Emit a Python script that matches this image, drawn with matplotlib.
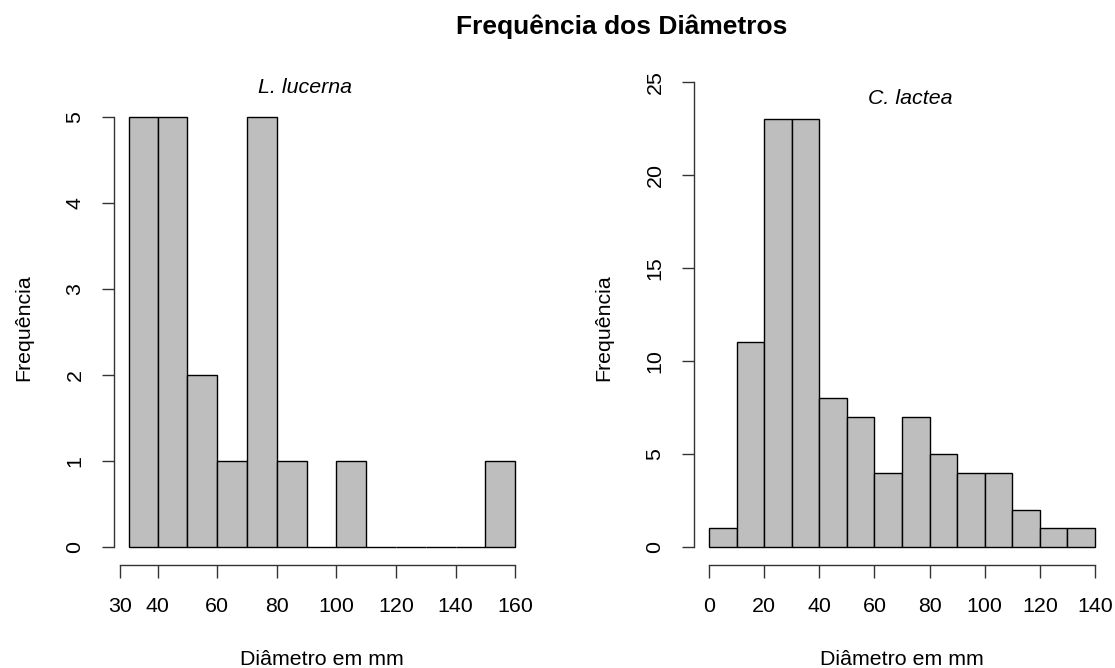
import matplotlib
matplotlib.use('Agg')
import matplotlib.pyplot as plt

plt.rcParams['font.family'] = ['Liberation Sans', 'DejaVu Sans']

# L. lucerna
lucerna_edges = [30.4, 40, 50, 60, 70, 80, 90, 100, 110, 120, 130, 140, 150, 160]
lucerna_counts = [5, 5, 2, 1, 5, 1, 0, 1, 0, 0, 0, 0, 1]
lucerna_xticks = [27.3, 40, 60, 80, 100, 120, 140, 160]
lucerna_xlabels = ['30', '40', '60', '80', '100', '120', '140', '160']
lucerna_yticks = [0, 1, 2, 3, 4, 5]

# C. lactea
lactea_edges = [0, 10, 20, 30, 40, 50, 60, 70, 80, 90, 100, 110, 120, 130, 140]
lactea_counts = [1, 11, 23, 23, 8, 7, 4, 7, 5, 4, 4, 2, 1, 1]
lactea_xticks = [0, 20, 40, 60, 80, 100, 120, 140]
lactea_yticks = [0, 5, 10, 15, 20, 25]

W, H = 1115, 668
FS = 15.4


def px_axes(fig, x0, x1, y0, y1):
    return fig.add_axes([x0 / W, 1 - y1 / H, (x1 - x0) / W, (y1 - y0) / H])


def draw_hist(ax, edges, counts, xticks, xlabels, yticks, xlim, ylim, name, name_xy):
    lefts = edges[:-1]
    widths = [edges[i + 1] - edges[i] for i in range(len(counts))]
    ax.bar(lefts, counts, width=widths, align='edge', color='#bebebe',
           edgecolor='black', linewidth=1.0)
    ax.set_xlim(*xlim)
    ax.set_ylim(*ylim)
    for s in ['top', 'right']:
        ax.spines[s].set_visible(False)
    ax.spines['left'].set_bounds(yticks[0], yticks[-1])
    ax.spines['bottom'].set_bounds(xticks[0], xticks[-1])
    for s in ['left', 'bottom']:
        ax.spines[s].set_linewidth(1.0)
        ax.spines[s].set_color('#333333')
    ax.set_xticks(xticks)
    ax.set_xticklabels(xlabels)
    ax.set_yticks(yticks)
    ax.tick_params(length=9, width=1.0, color='#333333', labelsize=FS)
    ax.tick_params(axis='x', pad=14)
    ax.tick_params(axis='y', pad=12)
    for lab in ax.get_yticklabels():
        lab.set_rotation(90)
        lab.set_va('center')
        lab.set_ha('right')
    ax.set_xlabel('Diâmetro em mm', fontsize=FS, va='center')
    ax.xaxis.set_label_coords(0.5, -0.187)
    ax.set_ylabel('Frequência', fontsize=FS, va='center')
    ax.yaxis.set_label_coords(-0.215, 0.473)
    ax.text(name_xy[0], name_xy[1], name, fontsize=FS, style='italic',
            ha='center', va='center')


fig = plt.figure(figsize=(W / 100, H / 100), dpi=100)

ax1 = px_axes(fig, 113.6, 530, 63.4, 565.3)
draw_hist(ax1, lucerna_edges, lucerna_counts, lucerna_xticks, lucerna_xlabels,
          lucerna_yticks, (25.2, 165.0), (-0.216, 5.62), 'L. lucerna', (89.5, 5.34))

ax2 = px_axes(fig, 693.6, 1110.4, 63.4, 565.3)
draw_hist(ax2, lactea_edges, lactea_counts, lactea_xticks,
          [str(t) for t in lactea_xticks], lactea_yticks,
          (-5.59, 145.59), (-0.98, 26.0), 'C. lactea', (72.9, 24.1))

fig.text(622 / W, 1 - 27 / H, 'Frequência dos Diâmetros', fontsize=19,
         fontweight='bold', ha='center', va='center')

fig.savefig('out.png', dpi=100)
